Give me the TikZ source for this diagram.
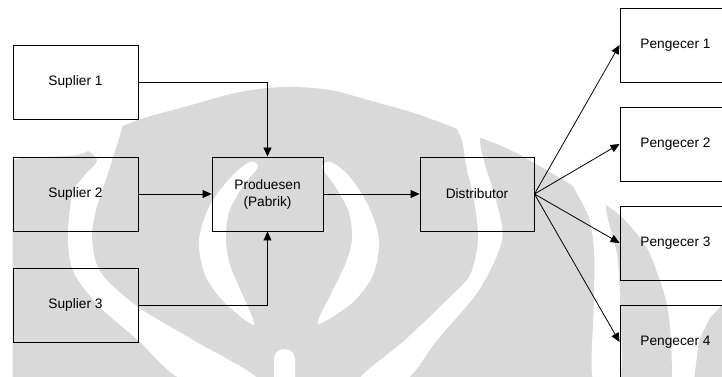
\documentclass[tikz,border=0pt]{standalone}
\usepackage{fontspec}
\setmainfont{Liberation Sans}
\usetikzlibrary{arrows.meta}
\definecolor{wmgray}{RGB}{217,217,217}
\begin{document}
\begin{tikzpicture}[x=1pt,y=-1pt,
  box/.style={draw=black, line width=0.9pt, inner sep=0pt, minimum height=74pt,
    align=center, font=\fontsize{13.7pt}{17pt}\selectfont},
  conn/.style={draw=black, line width=0.8pt, -{Triangle[length=9pt,width=8pt]}},
  band/.style={fill=white}]
\useasboundingbox (0,0) rectangle (722,376);
\fill[white] (0,0) rectangle (722,376);

% background emblem
\begin{scope}
  \clip (12.5,0) rectangle (722,376);
  \fill[wmgray] (-100,380) -- (-100,215) -- plot[smooth, tension=0.55] coordinates {
    (-47,213) (-5,178) (14,160) (50,157) (84,153) (110,133) (138,120) (184,107) (240,92)
    (285,87) (330,90) (368,100) (414,113) (460,130) (506,148) (534,163)
    (575,187) (617,213) (645,245) (658,275) (667,305) (671,340) (672,380)} -- cycle;
  \fill[wmgray] (722,305) -- (722,380) -- (694,380) -- (699,340) -- (710,318) -- cycle;
  % outer bands
  \fill[band] plot[smooth cycle, tension=0.5] coordinates {
    (82,140) (97,160) (84,176) (72,195) (68,240) (74,273) (100,307) (138,340)
    (184,380) (258,380) (193,340) (138,307) (101,273) (92,240) (96,210)
    (104,185) (112,160) (122,118)};
  \fill[band] plot[smooth cycle, tension=0.5] coordinates {
    (452,112) (462,140) (466,165) (474,200) (478,240) (470,275) (447,300)
    (405,340) (359,380) (405,380) (437,340) (479,290) (502,240) (496,200)
    (485,165) (480,140) (484,112)};
  \fill[band] plot[smooth cycle, tension=0.5] coordinates {
    (568,172) (588,215) (594,250) (594,300) (593,380) (620,380) (620,300)
    (617,255) (608,220) (598,172)};
  % inner crescents
  \fill[band] plot[smooth cycle, tension=0.5] coordinates {
    (250,162) (232,176) (210,205) (199,240) (205,275) (225,303) (254,325)
    (243,296) (230,265) (226,240) (229,212) (243,186) (258,167)};
  \fill[band] plot[smooth cycle, tension=0.5] coordinates {
    (331,162) (349,176) (368,205) (379,240) (373,275) (352,303) (318,324)
    (330,296) (345,265) (352,240) (349,212) (335,186) (322,167)};
  % stem
  \fill[band, rounded corners=10pt] (274,349) rectangle (295,395);
\end{scope}

% supply chain
\begin{scope}
  \clip (0,0) rectangle (722,376);
  \node[box, minimum width=125pt] (s1) at (75.5,82)  {Suplier 1};
  \node[box, minimum width=125pt] (s2) at (75.5,194) {Suplier 2};
  \node[box, minimum width=125pt] (s3) at (75.5,305) {Suplier 3};
  \node[box, minimum width=111pt] (prod) at (267.5,194) {Produesen\\(Pabrik)};
  \node[box, minimum width=114pt] (dist) at (477,194) {Distributor};
  \node[box, minimum width=111pt] (p1) at (675.5,45)  {Pengecer 1};
  \node[box, minimum width=111pt] (p2) at (675.5,144) {Pengecer 2};
  \node[box, minimum width=111pt] (p3) at (675.5,243) {Pengecer 3};
  \node[box, minimum width=111pt] (p4) at (675.5,342) {Pengecer 4};

  \draw[conn] (s1.east) -| (prod.north);
  \draw[conn] (s2.east) -- (prod.west);
  \draw[conn] (s3.east) -| (prod.south);
  \draw[conn] (prod.east) -- (dist.west);
  \foreach \p in {p1,p2,p3,p4}
    \draw[conn] (dist.east) -- (\p.west);
\end{scope}
\end{tikzpicture}
\end{document}
